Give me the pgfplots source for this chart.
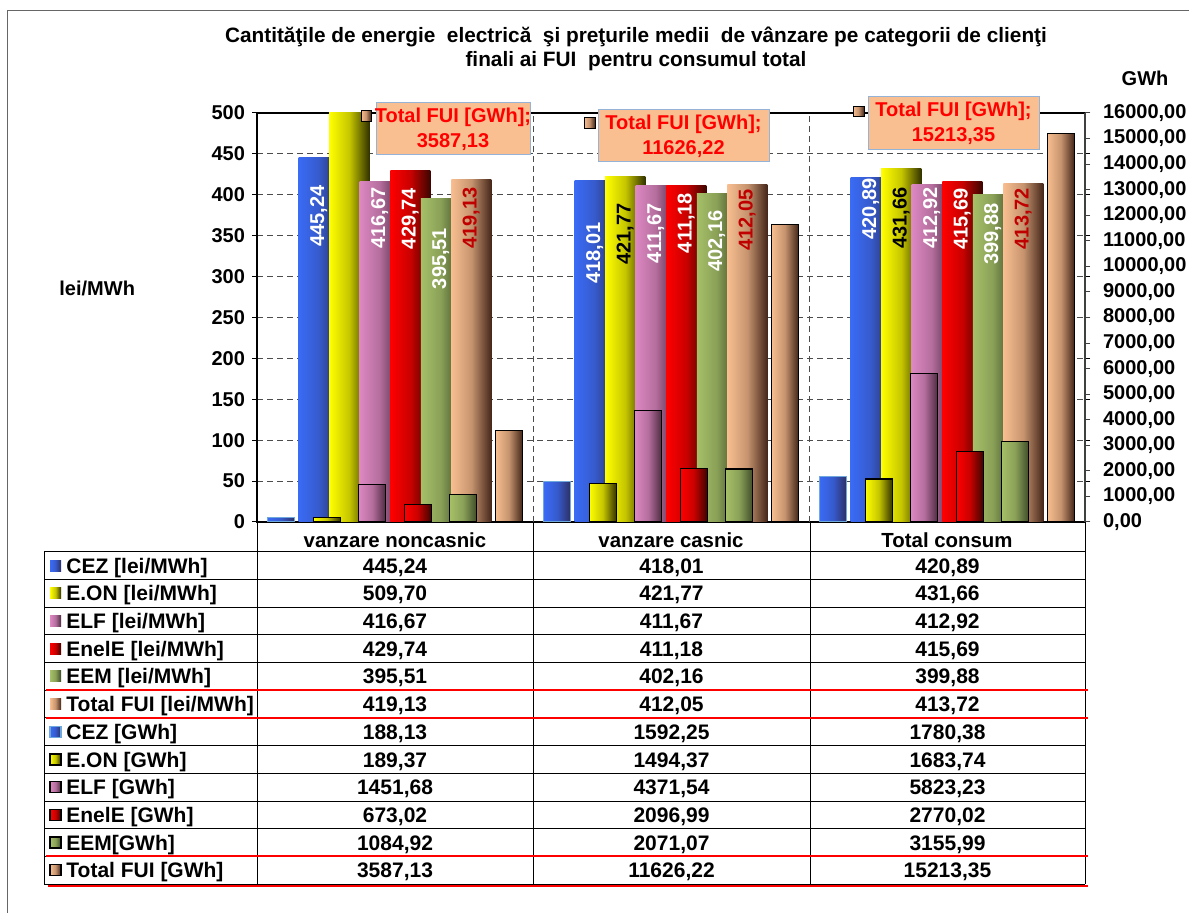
\documentclass[border=0pt]{standalone}
\usepackage{fontspec}
\setmainfont{Liberation Sans}
\usepackage{pgfplots}
\pgfplotsset{compat=1.18}
\usepackage{pgfplotstable}

\definecolor{cezL}{HTML}{3A6BF5}\definecolor{cezR}{HTML}{2C2F62}
\definecolor{eonL}{HTML}{FFFF00}\definecolor{eonR}{HTML}{333300}
\definecolor{elfL}{HTML}{DD88C2}\definecolor{elfR}{HTML}{4D2A40}
\definecolor{enelL}{HTML}{FF0000}\definecolor{enelR}{HTML}{3D0500}
\definecolor{eemL}{HTML}{A6C068}\definecolor{eemR}{HTML}{3F4D2A}
\definecolor{totL}{HTML}{F8BE90}\definecolor{totR}{HTML}{45271A}
\colorlet{cezM}{cezL!72!cezR}
\colorlet{eonM}{eonL!72!eonR}
\colorlet{elfM}{elfL!72!elfR}
\colorlet{enelM}{enelL!72!enelR}
\colorlet{eemM}{eemL!72!eemR}
\colorlet{totM}{totL!72!totR}
\definecolor{cezB}{HTML}{6FA8DC}
\definecolor{darkred}{HTML}{C00000}
\definecolor{callout}{HTML}{F9BF90}
\definecolor{calloutB}{HTML}{95B3D7}

\newcommand{\fs}[1]{\bfseries\fontsize{#1}{#1}\selectfont}

% price series: x, value, label offset (pt below bar top), label
\pgfplotstableread{
x y off lab
0 445.24 13.5 445,24
1 418.01 21 418,01
2 420.89 0 420,89
}\cezP
\pgfplotstableread{
x y off lab
0 509.70 0 {}
1 421.77 13 421,77
2 431.66 9 431,66
}\eonP
\pgfplotstableread{
x y off lab
0 416.67 3 416,67
1 411.67 9 411,67
2 412.92 1.5 412,92
}\elfP
\pgfplotstableread{
x y off lab
0 429.74 8.5 429,74
1 411.18 3.5 411,18
2 415.69 3 415,69
}\enelP
\pgfplotstableread{
x y off lab
0 395.51 14.5 395,51
1 402.16 8.5 402,16
2 399.88 4 399,88
}\eemP
\pgfplotstableread{
x y off lab
0 419.13 4 419,13
1 412.05 2 412,05
2 413.72 2 413,72
}\totP

% one x unit of the axis = 138pt
\pgfplotsset{
  pbar/.style n args={3}{ybar, bar width=0.145, bar shift=#1, draw=none,
    left color=#2L, right color=#2R, middle color=#2M,
    nodes near coords={\pgfplotspointmeta}, point meta=explicit symbolic,
    visualization depends on={\thisrow{off} \as \off},
    every node near coord/.append style={xshift={#1*138pt}, yshift={-\off*1pt}, rotate=90, anchor=east,
      inner sep=0pt, font=\fs{10}, text=#3}},
  gbar/.style n args={3}{ybar, bar width=0.098, bar shift=#1, draw=#3, line width=0.6pt,
    left color=#2L, right color=#2R, middle color=#2M},
}
% one plot per bar, so that each bar gets its own gradient
\newcommand{\pb}[4]{%
  \addplot[pbar={#1}{#2}{#3}, restrict x to domain=-0.1:0.1] table[x=x,y=y,meta=lab]{#4};
  \addplot[pbar={#1}{#2}{#3}, restrict x to domain=0.9:1.1] table[x=x,y=y,meta=lab]{#4};
  \addplot[pbar={#1}{#2}{#3}, restrict x to domain=1.9:2.1] table[x=x,y=y,meta=lab]{#4};}
\newcommand{\gb}[4]{%
  \addplot[gbar={#1}{#2}{#3}, restrict x to domain=-0.1:0.1] coordinates {#4};
  \addplot[gbar={#1}{#2}{#3}, restrict x to domain=0.9:1.1] coordinates {#4};
  \addplot[gbar={#1}{#2}{#3}, restrict x to domain=1.9:2.1] coordinates {#4};}

\begin{document}
\begin{tikzpicture}

\begin{scope}[x=0.5pt,y=-0.5pt]
\draw[black!60, line width=0.5pt] (7,913) -- (7,11) -- (1189,11);
\node[font=\fs{10.4}] at (636,37) {Cantităţile de energie\ \ electrică\ \ şi preţurile medii\ \ de vânzare pe categorii de clienţi};
\node[font=\fs{10.4}] at (636,61) {finali ai FUI\ \ pentru consumul total};
\end{scope}

% ---------- primary axis: prices ----------
\begin{axis}[
  at={(128.5pt,-261pt)}, anchor=south west,
  scale only axis, width=414pt, height=204.5pt,
  xmin=-0.5, xmax=2.5, ymin=0, ymax=500,
  axis line style={line width=1pt},
  ytick={0,50,...,500},
  ymajorgrids,
  major grid style={densely dashed, black!70, line width=0.4pt},
  xtick={0,1,2},
  xticklabels={vanzare noncasnic,vanzare casnic,Total consum},
  major x tick style=transparent,
  extra x ticks={0.5,1.5},
  extra x tick labels={},
  extra x tick style={grid=major, major tick length=0pt},
  tick align=outside, major tick length=2.5pt,
  tick style={black, line width=0.5pt},
  /pgf/number format/assume math mode=true,
  yticklabel style={font=\fs{10}},
  xticklabel style={font=\fs{10.2}, anchor=base, yshift=-10.5pt},
  ylabel={lei/MWh},
  ylabel style={rotate=-90, at={(axis description cs:-0.193,0.572)}, anchor=center, font=\fs{10}},
]
\pb{-0.2763}{cez}{white}{\cezP}
\pb{-0.1658}{eon}{black}{\eonP}
\pb{-0.0553}{elf}{white}{\elfP}
\pb{0.0553}{enel}{white}{\enelP}
\pb{0.1658}{eem}{white}{\eemP}
\pb{0.2763}{tot}{darkred}{\totP}
\end{axis}

% ---------- secondary axis: quantities ----------
\begin{axis}[
  at={(128.5pt,-261pt)}, anchor=south west,
  scale only axis, width=414pt, height=204.5pt,
  xmin=-0.5, xmax=2.5, ymin=0, ymax=16000,
  axis x line=none, axis y line*=right,
  axis line style={line width=0.8pt, black!75},
  ytick={0,1000,...,16000},
  scaled y ticks=false,
  tick align=outside, major tick length=2.5pt,
  tick style={black!75, line width=0.5pt},
  yticklabel style={font=\fs{10}, xshift=3pt,
    /pgf/number format/fixed, /pgf/number format/fixed zerofill,
    /pgf/number format/precision=2, /pgf/number format/use comma,
    /pgf/number format/1000 sep={}, /pgf/number format/assume math mode=true},
  ylabel={GWh},
  ylabel style={rotate=-90, at={(axis description cs:1.0725,1.0856)}, anchor=center, font=\fs{10}},
]
\gb{-0.4122}{cez}{cezB}{(0,188.13) (1,1592.25) (2,1780.38)}
\gb{-0.2473}{eon}{black}{(0,189.37) (1,1494.37) (2,1683.74)}
\gb{-0.0824}{elf}{black}{(0,1451.68) (1,4371.54) (2,5823.23)}
\gb{0.0824}{enel}{black}{(0,673.02) (1,2096.99) (2,2770.02)}
\gb{0.2473}{eem}{black}{(0,1084.92) (1,2071.07) (2,3155.99)}
\gb{0.4122}{tot}{black}{(0,3587.13) (1,11626.22) (2,15213.35)}
\end{axis}

\begin{scope}[x=0.5pt,y=-0.5pt]
% callouts for Total FUI [GWh]
\filldraw[fill=callout, draw=calloutB, line width=0.5pt] (376,103) rectangle (530,155);
\node[text=red, font=\fs{10}, align=center, inner sep=0pt] at (453,129) {Total FUI [GWh];\\[2.5pt]3587,13};
\path[draw=black, line width=0.5pt, left color=totL, right color=totR, middle color=totM] (361,111) rectangle (371,122);
\filldraw[fill=callout, draw=calloutB, line width=0.5pt] (598,110) rectangle (769,162);
\node[text=red, font=\fs{10}, align=center, inner sep=0pt] at (683.5,136) {Total FUI [GWh];\\[2.5pt]11626,22};
\path[draw=black, line width=0.5pt, left color=totL, right color=totR, middle color=totM] (584,118) rectangle (595,129);
\filldraw[fill=callout, draw=calloutB, line width=0.5pt] (868,97) rectangle (1039,150);
\node[text=red, font=\fs{10}, align=center, inner sep=0pt] at (953.5,123.5) {Total FUI [GWh];\\[2.5pt]15213,35};
\path[draw=black, line width=0.5pt, left color=totL, right color=totR, middle color=totM] (853,107) rectangle (864,117);

% data table
\foreach \xx in {257,533,810,1085} \draw[black, line width=0.5pt] (\xx,522) -- (\xx,884);
\draw[black, line width=0.5pt] (44,552) -- (44,884);
\foreach \k in {0,...,12} \draw[black, line width=0.5pt] (44,{552+27.667*\k}) -- (1085,{552+27.667*\k});
\foreach \lab/\a/\b/\c/\key/\bd [count=\i from 0] in {
  {CEZ [lei/MWh]}/{445,24}/{418,01}/{420,89}/cez/none,
  {E.ON [lei/MWh]}/{509,70}/{421,77}/{431,66}/eon/none,
  {ELF [lei/MWh]}/{416,67}/{411,67}/{412,92}/elf/none,
  {EnelE [lei/MWh]}/{429,74}/{411,18}/{415,69}/enel/none,
  {EEM [lei/MWh]}/{395,51}/{402,16}/{399,88}/eem/none,
  {Total FUI [lei/MWh]}/{419,13}/{412,05}/{413,72}/tot/none,
  {CEZ [GWh]}/{188,13}/{1592,25}/{1780,38}/cez/cezB,
  {E.ON [GWh]}/{189,37}/{1494,37}/{1683,74}/eon/black,
  {ELF [GWh]}/{1451,68}/{4371,54}/{5823,23}/elf/black,
  {EnelE [GWh]}/{673,02}/{2096,99}/{2770,02}/enel/black,
  {EEM[GWh]}/{1084,92}/{2071,07}/{3155,99}/eem/black,
  {Total FUI [GWh]}/{3587,13}/{11626,22}/{15213,35}/tot/black}{
  \pgfmathsetmacro{\yy}{552+27.667*(\i+0.5)}
  \path[draw=\bd, line width=0.6pt, left color=\key L, right color=\key R, middle color=\key M] (50,\yy-5.5) rectangle (61,\yy+5.5);
  \node[anchor=base west, font=\fs{10.5}, inner sep=0pt] at (66,\yy+7.5) {\lab};
  \node[anchor=base, font=\fs{10.5}, inner sep=0pt] at (395,\yy+7.5) {\a};
  \node[anchor=base, font=\fs{10.5}, inner sep=0pt] at (671.5,\yy+7.5) {\b};
  \node[anchor=base, font=\fs{10.5}, inner sep=0pt] at (947.5,\yy+7.5) {\c};
}
% red separator lines
\draw[red, line width=1pt] (46,690.5) -- (1088,690.5);
\draw[red, line width=1pt] (46,718.5) -- (1088,718.5);
\draw[red, line width=1pt] (46,856.5) -- (1088,856.5);
\draw[red, line width=1pt] (48,886.5) -- (1088,886.5);
\end{scope}

\pgfresetboundingbox
\path[use as bounding box] (0,0) rectangle (594.5pt,-456.5pt);
\end{tikzpicture}
\end{document}
